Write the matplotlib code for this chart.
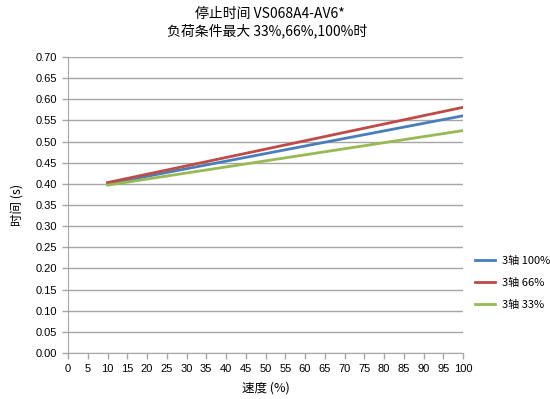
import matplotlib
matplotlib.use("Agg")
import matplotlib.pyplot as plt

speed = [10, 100]
axis3_100 = [0.400, 0.561]
axis3_66 = [0.403, 0.581]
axis3_33 = [0.397, 0.526]

series_labels = ["3轴 100%", "3轴 66%", "3轴 33%"]
colors = ["#4A7EBB", "#BE4B48", "#98B954"]

cjk = ["Noto Sans CJK JP", "DejaVu Sans"]
num = ["Liberation Sans", "Noto Sans CJK JP"]

fig = plt.figure(figsize=(5.5, 3.99), dpi=100)
ax = fig.add_axes([68 / 550, 1 - 353 / 399, (463 - 68) / 550, (353 - 57) / 399])

for ys, lab, c in zip([axis3_100, axis3_66, axis3_33], series_labels, colors):
    ax.plot(speed, ys, color=c, lw=2, label=lab)

ax.set_xlim(0, 100)
ax.set_ylim(0, 0.70)
ax.set_xticks(range(0, 101, 5))
ax.set_yticks([i * 0.05 for i in range(15)])
ax.set_yticklabels([f"{i * 0.05:.2f}" for i in range(15)], family=num, fontsize=8)
ax.set_xticklabels([str(v) for v in range(0, 101, 5)], family=num, fontsize=8)
ax.yaxis.grid(True, color="#a6a6a6", lw=1)
ax.set_axisbelow(True)
for s in ["top", "right"]:
    ax.spines[s].set_visible(False)
for s in ["left", "bottom"]:
    ax.spines[s].set_color("#a6a6a6")
ax.tick_params(axis="both", color="#a6a6a6", length=4, width=1)
ax.tick_params(axis="x", pad=4)
ax.tick_params(axis="y", pad=4)

ax.set_xlabel("速度 (%)", family=cjk, fontsize=9, labelpad=5)
ax.set_ylabel("时间 (s)", family=cjk, fontsize=9, labelpad=8)

fig.text(0.49, 0.965, "停止时间 VS068A4-AV6*", family=cjk, fontsize=10, ha="center", va="center")
fig.text(0.485, 0.922, "负荷条件最大 33%,66%,100%时", family=cjk, fontsize=10, ha="center", va="center")

leg = ax.legend(loc="center left", bbox_to_anchor=(475 / 550, 1 - 283 / 399),
                bbox_transform=fig.transFigure, frameon=False, borderpad=0, borderaxespad=0,
                prop={"family": cjk, "size": 8}, handlelength=1.8, handletextpad=0.6,
                labelspacing=1.1)

fig.savefig("out.png", dpi=100)
